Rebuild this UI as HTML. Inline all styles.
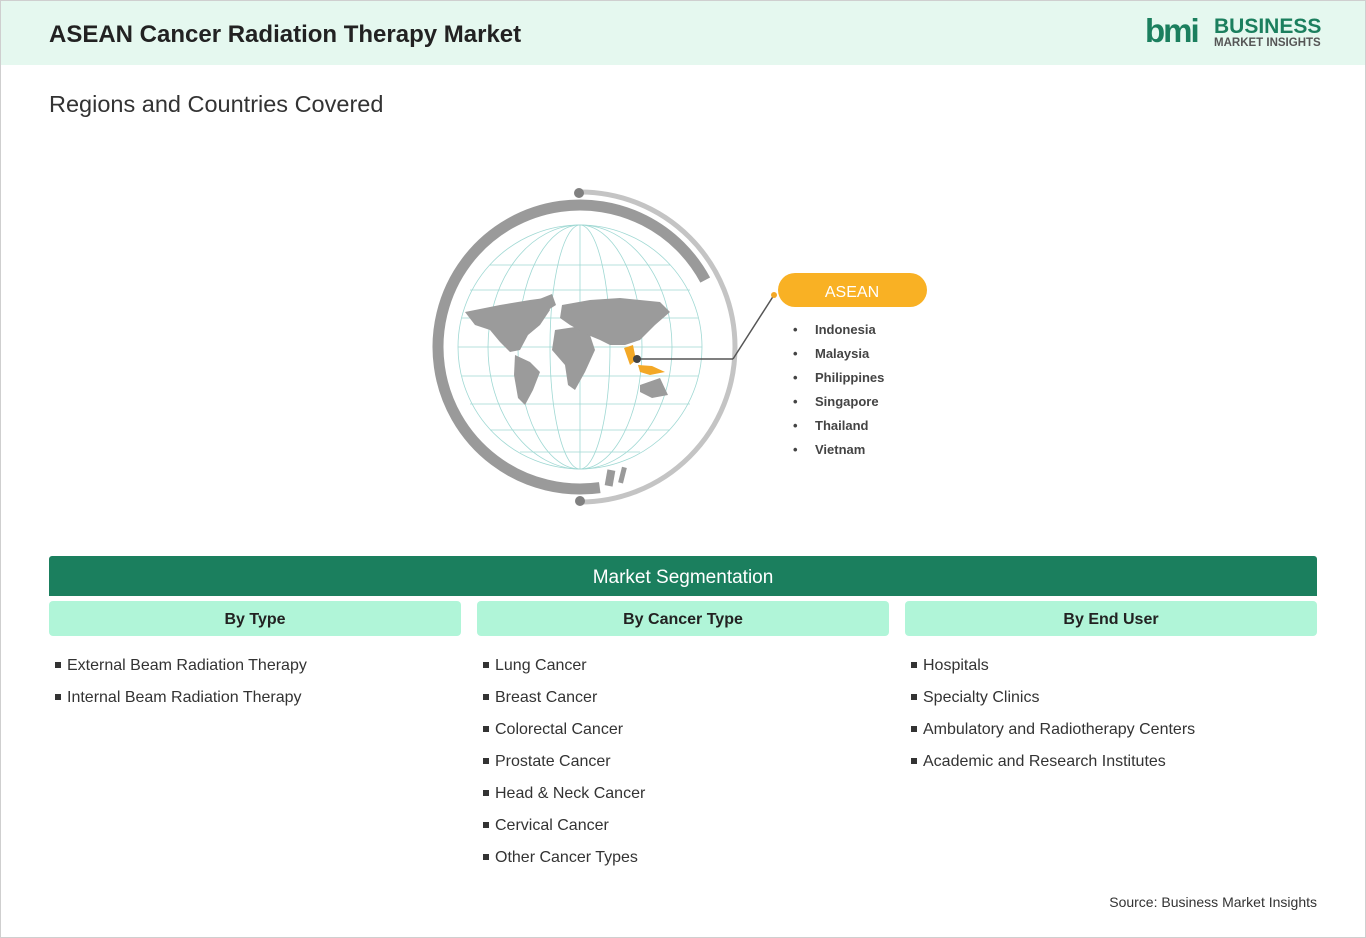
<!DOCTYPE html>
<html><head><meta charset="utf-8"><style>
body{margin:0;width:1366px;height:938px;background:#fff;font-family:"Liberation Sans",Arial,sans-serif;position:relative;overflow:hidden}
.frame{position:absolute;left:0;top:0;width:1364px;height:936px;border:1px solid #cfcfcf}
.hdr{position:absolute;left:1px;top:1px;width:1364px;height:64px;background:#e5f8ef}
.title{position:absolute;left:49px;top:21px;font-size:24px;font-weight:bold;color:#222}
.sub{position:absolute;left:49px;top:91px;font-size:23.5px;color:#333}
.seg{position:absolute;left:49px;top:556px;width:1268px;height:40px;background:#1b7f5e;color:#fff;font-size:19px;text-align:center;line-height:43px;border-radius:3px 3px 0 0}
.col{position:absolute;top:601px;width:412px;height:35px;background:#b0f5d8;border-radius:4px;text-align:center;line-height:37px;font-weight:bold;font-size:16px;color:#222}
.list{position:absolute;top:650px;font-size:16px;color:#333}
.list div{height:32px;line-height:32px;white-space:nowrap}
.list div:before{content:"";display:inline-block;width:6px;height:6px;background:#333;margin-right:6px;vertical-align:middle;position:relative;top:-1px}
.src{position:absolute;right:49px;top:894px;font-size:14px;color:#333}
</style></head><body>
<div class="frame"></div>
<div class="hdr"></div>
<div class="title">ASEAN Cancer Radiation Therapy Market</div>
<div style="position:absolute;left:1145px;top:14px;font-size:33px;color:#1b7f5e;font-weight:bold;letter-spacing:-2px;line-height:33px">bmi</div>
<div style="position:absolute;left:1214px;top:16px;font-size:21px;font-weight:bold;color:#1b7f5e;line-height:22px">BUSINESS</div>
<div style="position:absolute;left:1214px;top:37px;font-size:11.5px;font-weight:bold;color:#555">MARKET INSIGHTS</div>
<div class="sub">Regions and Countries Covered</div>
<svg style="position:absolute;left:0;top:0" width="1366" height="540">
<circle cx="580" cy="347" r="155" fill="none" stroke="#c4c4c4" stroke-width="5" stroke-dasharray="487 1000" transform="rotate(-90 580 347)"/>
<circle cx="579" cy="193" r="5" fill="#808080"/><circle cx="580" cy="501" r="5" fill="#808080"/>
<circle cx="580" cy="347" r="142" fill="none" stroke="#9a9a9a" stroke-width="11" stroke-dasharray="619 1000" transform="rotate(82 580 347)"/>
<rect x="606" y="470" width="8" height="16" fill="#9a9a9a" transform="rotate(10 610 478)"/>
<rect x="620" y="467" width="5" height="16" fill="#9a9a9a" transform="rotate(14 622 475)"/>
<g fill="none" stroke="#9fd8d3" stroke-width="0.8">
<circle cx="580" cy="347" r="122"/>
<ellipse cx="580" cy="347" rx="30" ry="122"/><ellipse cx="580" cy="347" rx="62" ry="122"/><ellipse cx="580" cy="347" rx="92" ry="122"/><line x1="580" y1="225" x2="580" y2="469"/>
<line x1="490" y1="265" x2="670" y2="265"/><line x1="470" y1="290" x2="690" y2="290"/><line x1="462" y1="318" x2="698" y2="318"/><line x1="458" y1="347" x2="702" y2="347"/><line x1="462" y1="376" x2="698" y2="376"/><line x1="470" y1="404" x2="690" y2="404"/><line x1="490" y1="430" x2="670" y2="430"/><line x1="520" y1="452" x2="640" y2="452"/>
</g>
<g fill="#9b9b9b">
<path d="M465 312 L500 305 L530 300 L545 298 L550 310 L540 325 L528 335 L520 350 L510 352 L500 342 L490 330 L475 325Z"/>
<path d="M537 300 L552 294 L556 305 L545 312Z"/>
<path d="M515 355 L530 362 L540 372 L533 390 L525 405 L518 398 L514 375Z"/>
<path d="M555 330 L575 327 L590 335 L595 350 L585 372 L575 390 L568 385 L565 365 L552 350Z"/>
<path d="M562 305 L590 300 L620 298 L660 302 L670 312 L655 325 L640 340 L625 345 L610 345 L600 340 L588 335 L570 325 L560 318Z"/>
<path d="M640 385 L660 378 L668 395 L652 398 L640 392Z"/>
</g>
<g fill="#f3a826"><path d="M624 348 L633 345 L636 360 L630 365Z"/><path d="M638 365 L652 366 L665 372 L650 375 L640 372Z"/></g>
<line x1="637" y1="359" x2="733" y2="359" stroke="#555" stroke-width="1.5"/>
<line x1="733" y1="359" x2="774" y2="295" stroke="#555" stroke-width="1.5"/>
<circle cx="637" cy="359" r="4" fill="#444"/>
<circle cx="774" cy="295" r="3" fill="#f3a826"/>
<rect x="778" y="273" width="149" height="34" rx="17" fill="#f9b124"/>
<text x="852" y="297" fill="#fff" font-size="16" text-anchor="middle" font-family="Liberation Sans Narrow,Liberation Sans,sans-serif">ASEAN</text>
<g font-size="13" fill="#444" font-family="Liberation Sans Narrow,Liberation Sans,sans-serif" font-weight="bold">
<text x="793" y="334">•</text><text x="815" y="334">Indonesia</text>
<text x="793" y="358">•</text><text x="815" y="358">Malaysia</text>
<text x="793" y="382">•</text><text x="815" y="382">Philippines</text>
<text x="793" y="406">•</text><text x="815" y="406">Singapore</text>
<text x="793" y="430">•</text><text x="815" y="430">Thailand</text>
<text x="793" y="454">•</text><text x="815" y="454">Vietnam</text>
</g>
</svg>
<div class="seg">Market Segmentation</div>
<div class="col" style="left:49px">By Type</div>
<div class="col" style="left:477px">By Cancer Type</div>
<div class="col" style="left:905px">By End User</div>
<div class="list" style="left:55px"><div>External Beam Radiation Therapy</div><div>Internal Beam Radiation Therapy</div></div>
<div class="list" style="left:483px"><div>Lung Cancer</div><div>Breast Cancer</div><div>Colorectal Cancer</div><div>Prostate Cancer</div><div>Head &amp; Neck Cancer</div><div>Cervical Cancer</div><div>Other Cancer Types</div></div>
<div class="list" style="left:911px"><div>Hospitals</div><div>Specialty Clinics</div><div>Ambulatory and Radiotherapy Centers</div><div>Academic and Research Institutes</div></div>
<div class="src">Source: Business Market Insights</div>
</body></html>
